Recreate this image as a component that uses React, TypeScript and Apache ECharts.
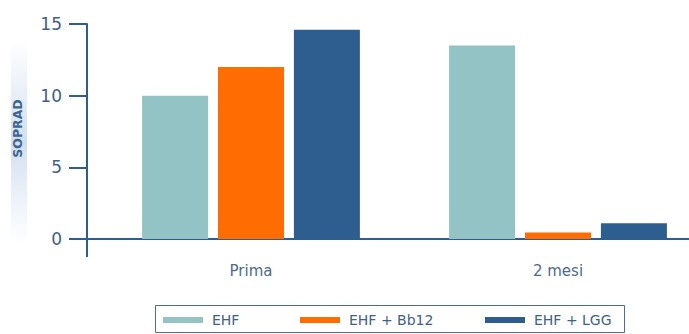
import React, { useEffect, useRef } from "react";
import * as echarts from "echarts";

// Category labels and SOPRAD values per group
const categories: string[] = ["Prima", "2 mesi"];
const seriesNames: string[] = ["EHF", "EHF + Bb12", "EHF + LGG"];
const ehfValues: number[] = [10, 13.5];
const bb12Values: number[] = [12, 0.45];
const lggValues: number[] = [14.6, 1.1];
const yTicks = { min: 0, max: 15, interval: 5 };

const COLORS = ["#93c3c5", "#fe6c02", "#2e5e90"];
const AXIS = "#2f5d8c";
const TEXT = "#3f6089";
const FONT = "'DejaVu Sans', Verdana, sans-serif";

export default function App() {
  const ref = useRef<HTMLDivElement>(null);

  useEffect(() => {
    if (!ref.current) return;
    const chart = echarts.init(ref.current, undefined, { renderer: "svg" });

    const legendLefts = [163, 300, 485];
    const values = [ehfValues, bb12Values, lggValues];

    chart.setOption({
      animation: false,
      backgroundColor: "#ffffff",
      grid: {
        left: 97.5,
        top: 24,
        width: 614,
        height: 215,
        containLabel: false,
        outerBoundsMode: "none",
      },
      xAxis: {
        type: "category",
        data: categories,
        boundaryGap: true,
        axisLine: { show: true, lineStyle: { color: AXIS, width: 2 } },
        axisTick: { show: false },
        axisLabel: { color: "#4e6a8c", fontSize: 15, fontFamily: FONT, margin: 24 },
        splitLine: { show: false },
      },
      yAxis: {
        type: "value",
        min: yTicks.min,
        max: yTicks.max,
        interval: yTicks.interval,
        offset: 10.5,
        name: "SOPRAD",
        nameLocation: "middle",
        nameRotate: 90,
        nameGap: 63,
        nameTextStyle: {
          color: "#3d6590",
          fontSize: 12.5,
          fontWeight: "bold",
          fontFamily: FONT,
          padding: [0, 0, 0, 6],
        },
        axisLine: { show: true, lineStyle: { color: AXIS, width: 2 } },
        axisTick: { show: true, length: 18, lineStyle: { color: AXIS, width: 2 } },
        axisLabel: { color: TEXT, fontSize: 17, fontFamily: FONT, margin: 25 },
        splitLine: { show: false },
      },
      legend: seriesNames.map((name, i) => ({
        data: [name],
        left: legendLefts[i],
        top: 313,
        padding: 0,
        itemWidth: 40,
        itemHeight: 6,
        icon: "rect",
        selectedMode: false,
        textStyle: { color: TEXT, fontSize: 14, fontFamily: FONT, padding: [0, 0, 0, 4] },
      })),
      graphic: [
        // soft band behind the axis title
        {
          type: "rect",
          z: -1,
          shape: { x: 11, y: 40, width: 16, height: 203 },
          style: {
            fill: new echarts.graphic.LinearGradient(0, 0, 0, 1, [
              { offset: 0, color: "rgba(214,227,240,0)" },
              { offset: 0.5, color: "rgba(208,223,239,1)" },
              { offset: 1, color: "rgba(214,227,240,0)" },
            ]),
          },
        },
        // x axis line continues left past the y axis
        {
          type: "line",
          shape: { x1: 69, y1: 239, x2: 98, y2: 239 },
          style: { stroke: AXIS, lineWidth: 2 },
        },
        // y axis line continues below the x axis
        {
          type: "line",
          shape: { x1: 87, y1: 239, x2: 87, y2: 257 },
          style: { stroke: AXIS, lineWidth: 2 },
        },
        // legend frame
        {
          type: "rect",
          shape: { x: 155.5, y: 305.5, width: 469, height: 27 },
          style: { fill: "none", stroke: "#4d6d93", lineWidth: 1 },
        },
      ],
      series: seriesNames.map((name, i) => ({
        name,
        type: "bar",
        data: values[i],
        barWidth: 66,
        barGap: "15%",
        itemStyle: { color: COLORS[i] },
      })),
    });

    return () => chart.dispose();
  }, []);

  return (
    <div
      ref={ref}
      style={{ position: "fixed", left: 0, top: 0, width: 689, height: 334 }}
    />
  );
}
